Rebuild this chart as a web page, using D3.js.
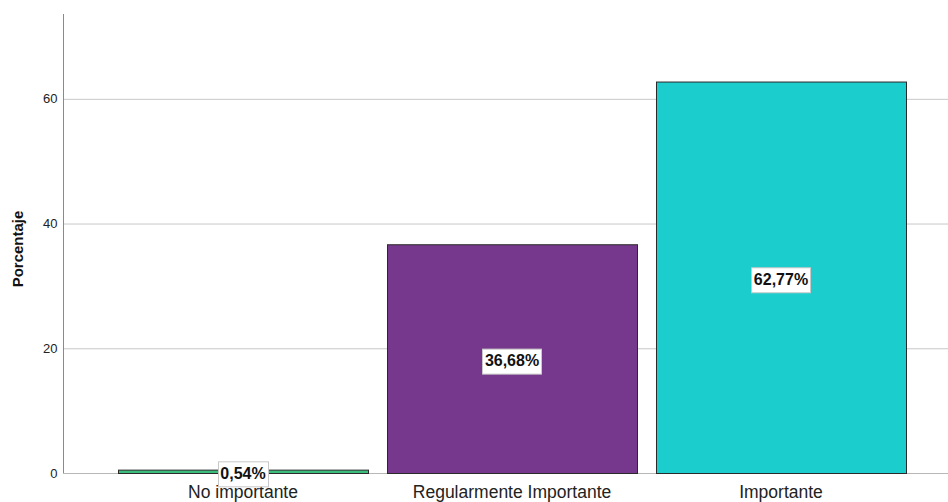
<!DOCTYPE html>
<html>
<head>
<meta charset="utf-8">
<script src="https://cdn.jsdelivr.net/npm/d3@7"></script>
<style>
  body { margin: 0; background: #fff; }
  svg { display: block; font-family: "Liberation Sans", Arial, sans-serif; }
</style>
</head>
<body>
<svg id="chart" width="948" height="502"></svg>
<script>
// Response categories and their percentages
const categories = ["No importante", "Regularmente Importante", "Importante"];
const percentages = [0.54, 36.68, 62.77];
const valueLabels = ["0,54%", "36,68%", "62,77%"];
const barColors = ["#3dbd7c", "#76388c", "#1ccdcd"];
const yTicks = [0, 20, 40, 60];

const svg = d3.select("#chart");
const axisX = 63, baseY = 473, topY = 14, rightX = 948;

const y = d3.scaleLinear().domain([0, 73.6]).range([baseY, topY]);
const x = d3.scaleBand().domain(categories).range([118, 906])
  .paddingInner(0.0706).paddingOuter(0);

// Gridlines
svg.append("g").selectAll("line").data(yTicks.filter(d => d > 0)).join("line")
  .attr("x1", axisX).attr("x2", rightX)
  .attr("y1", d => y(d) + 0.5).attr("y2", d => y(d) + 0.5)
  .attr("stroke", "#c8c8c8").attr("stroke-width", 1);

// Y axis
const yAxis = svg.append("g").attr("transform", `translate(${axisX + 0.5},0)`)
  .call(d3.axisLeft(y).tickValues(yTicks).tickSize(0).tickPadding(6));
yAxis.select(".domain").attr("d", `M0,${topY}V${baseY}`).attr("stroke", "#8a8a8a");
yAxis.selectAll("text").attr("font-size", 13).attr("fill", "#222")
  .attr("font-family", "Liberation Sans, Arial, sans-serif");

// Baseline
svg.append("line").attr("x1", axisX).attr("x2", rightX)
  .attr("y1", baseY + 0.5).attr("y2", baseY + 0.5)
  .attr("stroke", "#b8b8b8");

// Bars
svg.append("g").selectAll("rect").data(categories).join("rect")
  .attr("x", d => x(d) + 0.5)
  .attr("y", (d, i) => y(percentages[i]) + 0.5)
  .attr("width", x.bandwidth())
  .attr("height", (d, i) => y(0) - y(percentages[i]))
  .attr("fill", (d, i) => barColors[i])
  .attr("stroke", "#2a2a2a").attr("stroke-width", 1);

// X axis category labels
const xAxis = svg.append("g").attr("transform", `translate(0,${baseY})`)
  .call(d3.axisBottom(x).tickSize(0).tickPadding(0));
xAxis.select(".domain").remove();
xAxis.selectAll("text").attr("font-size", 17.5).attr("fill", "#222")
  .attr("dy", null).attr("y", 25)
  .attr("font-family", "Liberation Sans, Arial, sans-serif");

// Value labels in boxes at bar mid-height
const lab = svg.append("g").selectAll("g").data(categories).join("g")
  .attr("transform", (d, i) => `translate(${x(d) + x.bandwidth() / 2},${(y(percentages[i]) + y(0)) / 2 + 2})`);
lab.append("text")
  .attr("text-anchor", "middle").attr("dy", "0.36em")
  .attr("font-size", 16).attr("font-weight", "bold").attr("fill", "#111")
  .text((d, i) => valueLabels[i]);
lab.each(function () {
  const g = d3.select(this);
  const bb = g.select("text").node().getBBox();
  g.insert("rect", "text")
    .attr("x", Math.round(bb.x - 2.5) + 0.5).attr("y", Math.round(bb.y - 4) + 0.5)
    .attr("width", Math.round(bb.width + 5)).attr("height", Math.round(bb.height + 8))
    .attr("fill", "#fff").attr("stroke", "#c8c8c8");
});

// Y axis title
svg.append("text")
  .attr("transform", "translate(23,249) rotate(-90)")
  .attr("text-anchor", "middle")
  .attr("font-size", 15).attr("font-weight", "bold").attr("fill", "#111")
  .text("Porcentaje");
</script>
</body>
</html>
